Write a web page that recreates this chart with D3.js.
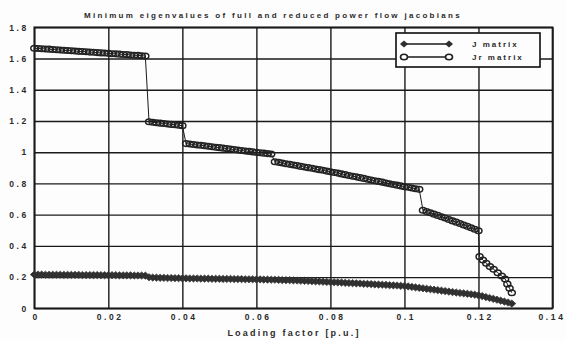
<!DOCTYPE html>
<html>
<head>
<meta charset="utf-8">
<script src="https://cdn.jsdelivr.net/npm/d3@7"></script>
<style>
  body { margin: 0; background: #fff; }
  svg { display: block; background: #fdfdfd; }
  text { font-family: "Liberation Sans", Arial, sans-serif; font-weight: bold; fill: #2b2b2b; }
</style>
</head>
<body>
<svg id="chart" width="566" height="340"></svg>
<script>
// Axis ticks and labels
const xTicks = [0, 0.02, 0.04, 0.06, 0.08, 0.1, 0.12, 0.14];
const xTickLabels = ["0", "0.02", "0.04", "0.06", "0.08", "0.1", "0.12", "0.14"];
const yTicks = [0, 0.2, 0.4, 0.6, 0.8, 1, 1.2, 1.4, 1.6, 1.8];
const yTickLabels = ["0", "0.2", "0.4", "0.6", "0.8", "1", "1.2", "1.4", "1.6", "1.8"];

const titleText = "Minimum eigenvalues of full and reduced power flow jacobians";
const xAxisTitle = "Loading factor [p.u.]";
const seriesNames = ["J matrix", "Jr matrix"];

// Loading factor grid (p.u.), one sample per 0.001
const loadingFactor = d3.range(130).map(i => i / 1000);

// Minimum eigenvalue of the full jacobian J
const jMatrix = [
  0.216,0.216,0.216,0.215,0.215,0.215,0.215,0.215,0.214,0.214,
  0.214,0.214,0.214,0.213,0.213,0.213,0.213,0.213,0.212,0.212,
  0.212,0.212,0.212,0.211,0.211,0.211,0.211,0.210,0.210,0.210,
  0.209,
  0.199,0.197,0.196,0.195,0.195,0.194,0.194,0.193,0.193,0.192,
  0.192,0.191,0.191,0.191,0.190,0.190,0.190,0.189,0.189,0.189,
  0.188,0.188,0.188,0.187,0.187,0.187,0.186,0.186,0.186,0.185,
  0.185,0.184,0.184,0.183,0.183,0.182,0.181,0.180,0.180,0.179,
  0.178,0.177,0.176,0.175,0.174,0.173,0.172,0.170,0.169,0.168,
  0.167,0.166,0.165,0.163,0.162,0.161,0.160,0.159,0.157,0.156,
  0.155,0.153,0.152,0.151,0.150,0.148,0.147,0.146,0.144,0.143,
  0.140,0.137,0.134,0.131,0.128,0.125,0.122,0.119,0.116,0.113,
  0.110,0.107,0.104,0.101,0.098,0.096,0.093,0.090,0.087,0.083,
  0.078,0.072,0.066,0.061,0.055,0.049,0.043,0.037,0.030
];

// Minimum eigenvalue of the reduced jacobian Jr, loading factor 0 .. 0.120
const jrMatrix = [
  1.666,1.664,1.663,1.661,1.660,1.658,1.656,1.655,1.653,1.651,
  1.650,1.648,1.646,1.645,1.643,1.641,1.640,1.638,1.636,1.635,
  1.633,1.631,1.630,1.628,1.626,1.625,1.623,1.621,1.620,1.618,
  1.616,
  1.195,1.192,1.189,1.186,1.184,1.181,1.178,1.176,1.173,1.170,
  1.055,1.052,1.049,1.046,1.044,1.041,1.038,1.035,1.032,1.029,
  1.026,1.023,1.020,1.017,1.014,1.011,1.008,1.005,1.002,0.999,
  0.996,0.994,0.991,0.988,
  0.939,0.935,0.931,0.926,0.922,0.918,0.914,0.909,0.905,0.901,
  0.897,0.892,0.888,0.884,0.879,0.875,0.870,0.866,0.861,0.856,
  0.851,0.846,0.842,0.837,0.832,0.827,0.822,0.817,0.813,0.808,
  0.803,0.798,0.793,0.789,0.784,0.779,0.775,0.771,0.766,0.762,
  0.628,0.620,0.612,0.603,0.595,0.586,0.578,0.569,0.560,0.552,
  0.543,0.534,0.525,0.516,0.506,0.497
];
// Jr beyond 0.120, sampled at finer, uneven steps
const jrTailX = [0.1203,0.1212,0.1221,0.1231,0.1241,0.1252,0.1263,0.1272,0.1278,0.1284,0.1290];
const jrTailV = [0.331,0.309,0.288,0.267,0.250,0.228,0.207,0.188,0.156,0.128,0.100];

const jData = jMatrix.map((v, i) => [loadingFactor[i], v]);
const jrData = jrMatrix.map((v, i) => [loadingFactor[i], v])
  .concat(jrTailX.map((x, i) => [x, jrTailV[i]]));

const svg = d3.select("#chart");
const x = d3.scaleLinear().domain([0, 0.14]).range([34.3, 552.5]);
const y = d3.scaleLinear().domain([0, 1.8]).range([308.3, 27.3]);
const ink = "#1a1a1a";

// Grid and tick labels
const gx = svg.append("g").attr("transform", `translate(0,${y(0)})`)
  .call(d3.axisBottom(x).tickValues(xTicks)
    .tickFormat((d, i) => xTickLabels[i])
    .tickSize(-(y(0) - y(1.8))).tickPadding(6));
const gy = svg.append("g").attr("transform", `translate(${x(0)},0)`)
  .call(d3.axisLeft(y).tickValues(yTicks)
    .tickFormat((d, i) => yTickLabels[i])
    .tickSize(-(x(0.14) - x(0))).tickPadding(8));
[gx, gy].forEach(g => {
  g.select(".domain").remove();
  g.selectAll(".tick line").attr("stroke", ink).attr("stroke-width", 1.4);
  g.selectAll(".tick text")
    .style("font-family", '"Liberation Sans", Arial, sans-serif')
    .style("font-weight", "bold").style("font-size", "8.5px")
    .style("letter-spacing", "2.6px").attr("fill", "#333");
});
gx.selectAll(".tick text").attr("dx", "1.3px");
gx.selectAll(".tick text").filter((d, i) => i === xTicks.length - 1).attr("dx", "-1px");
gy.selectAll(".tick text").attr("dx", "2.6px");

// Plot frame
svg.append("rect")
  .attr("x", x(0)).attr("y", y(1.8))
  .attr("width", x(0.14) - x(0)).attr("height", y(0) - y(1.8))
  .attr("fill", "none").attr("stroke", ink).attr("stroke-width", 1.7);

// Marker shapes
const diamondPath = "M0,-3.6L4,0L0,3.6L-4,0Z";

const line = d3.line().x(d => x(d[0])).y(d => y(d[1]));

// J matrix series: filled diamonds
svg.append("path").datum(jData).attr("d", line)
  .attr("fill", "none").attr("stroke", ink).attr("stroke-width", 1);
svg.append("g").selectAll("path").data(jData).join("path")
  .attr("transform", d => `translate(${x(d[0])},${y(d[1])})`)
  .attr("d", diamondPath).attr("fill", "#2e2e2e").attr("stroke", "#3a3a3a").attr("stroke-width", 0.8);

// Jr matrix series: open circles (outlines overlap into a chain)
svg.append("path").datum(jrData).attr("d", line)
  .attr("fill", "none").attr("stroke", ink).attr("stroke-width", 1);
svg.append("g").selectAll("ellipse").data(jrData).join("ellipse")
  .attr("cx", d => x(d[0])).attr("cy", d => y(d[1]))
  .attr("rx", 3.5).attr("ry", 2.8)
  .attr("fill", "none").attr("stroke", "#222").attr("stroke-width", 1.5);

// Title and axis title
svg.append("text").attr("x", 273).attr("y", 18).attr("text-anchor", "middle")
  .style("font-size", "8px").style("letter-spacing", "2.3px").text(titleText);
svg.append("text").attr("x", 294).attr("y", 336).attr("text-anchor", "middle")
  .style("font-size", "9px").style("letter-spacing", "2.2px").text(xAxisTitle);

// Legend
const lg = svg.append("g");
lg.append("rect").attr("x", 396).attr("y", 33).attr("width", 144).attr("height", 34)
  .attr("fill", "#fdfdfd").attr("stroke", ink).attr("stroke-width", 1.7);
const legendRows = [{ yy: 44, name: seriesNames[0], kind: "diamond" },
                    { yy: 57, name: seriesNames[1], kind: "circle" }];
legendRows.forEach(r => {
  lg.append("line").attr("x1", 404).attr("x2", 449).attr("y1", r.yy).attr("y2", r.yy)
    .attr("stroke", ink).attr("stroke-width", 1.3);
  [404, 449].forEach(px => {
    if (r.kind === "diamond") {
      lg.append("path").attr("transform", `translate(${px},${r.yy})`)
        .attr("d", diamondPath).attr("fill", "#2e2e2e");
    } else {
      lg.append("ellipse").attr("cx", px).attr("cy", r.yy).attr("rx", 3.5).attr("ry", 2.8)
        .attr("fill", "#fdfdfd").attr("stroke", "#222").attr("stroke-width", 1.6);
    }
  });
  lg.append("text").attr("x", 472).attr("y", r.yy + 3)
    .style("font-size", "8px").style("letter-spacing", "2px").text(r.name);
});
</script>
</body>
</html>
